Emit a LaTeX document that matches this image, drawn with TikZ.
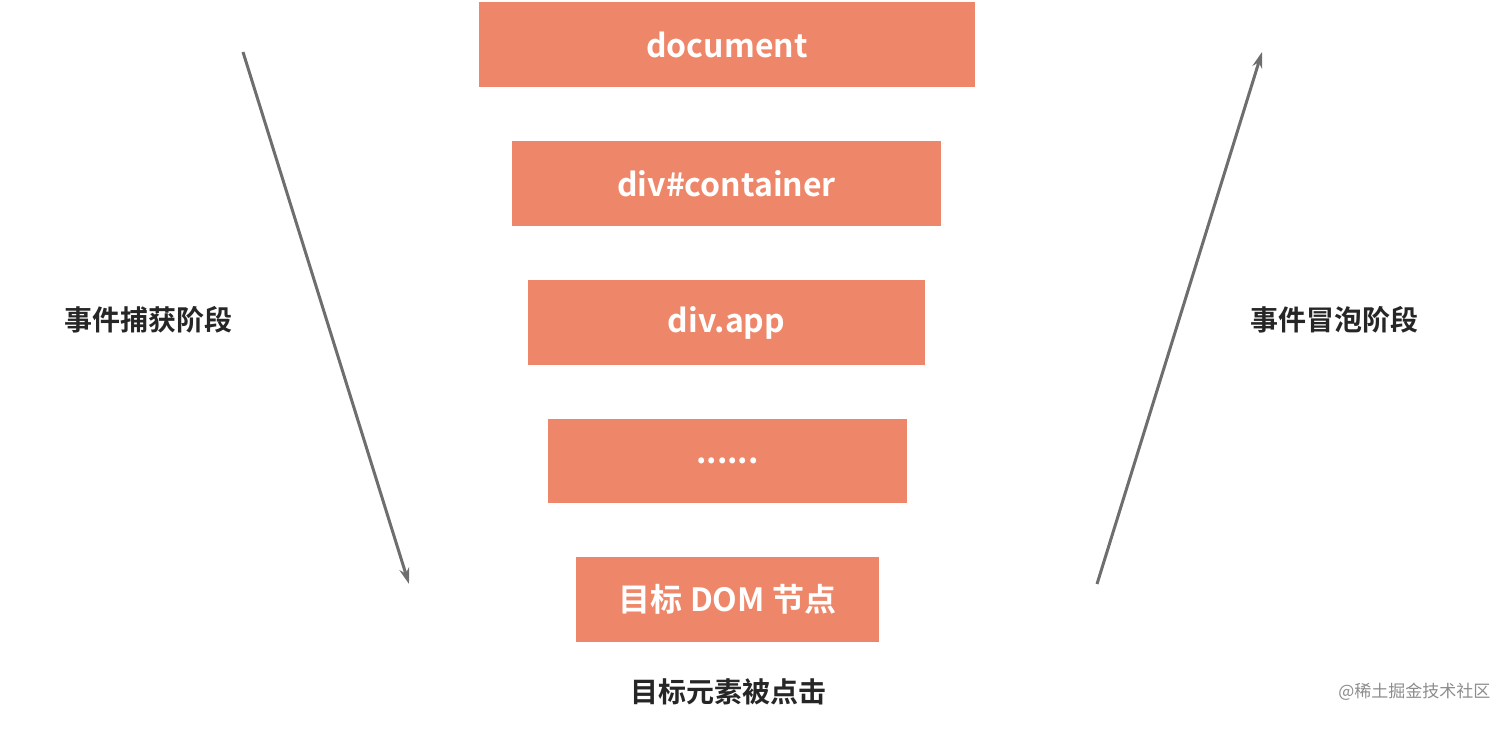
\documentclass[tikz,border=0pt]{standalone}
\usepackage{fontspec}
\setmainfont{Noto Sans CJK SC}[BoldFont={* Bold}]
\usetikzlibrary{arrows.meta}
\definecolor{boxc}{HTML}{EE8669}
\definecolor{arr}{HTML}{6E6E6E}
\tikzset{
  box/.style={fill=boxc,draw=none,text=white,font=\bfseries\fontsize{32}{36}\selectfont,inner sep=0pt},
  lab/.style={text=black!85,font=\bfseries\fontsize{28}{32}\selectfont},
  flow/.style={arr,line width=3pt,-{Stealth[length=16pt,width=10pt]}}
}
\begin{document}
\begin{tikzpicture}[x=1pt,y=1pt]
\useasboundingbox (0,0) rectangle (1512,728);
\node[box,minimum width=496pt,minimum height=85pt] (doc) at (727,683.5) {document};
\node[box,minimum width=429pt,minimum height=85pt] (cont) at (726.5,544.5) {div\#container};
\node[box,minimum width=397pt,minimum height=85pt] (app) at (726.5,405.5) {div.app};
\node[box,minimum width=359pt,minimum height=84pt] (dots) at (727.5,267) {......};
\node[box,minimum width=303pt,minimum height=85pt] (tgt) at (727.5,128.5) {目标 DOM 节点};
\node[lab] (click) at (728,36) {目标元素被点击};
\node[lab] (cap) at (148,408) {事件捕获阶段};
\node[lab] (bub) at (1334,408) {事件冒泡阶段};
\node[text=black!45,font=\fontsize{17}{20}\selectfont,anchor=east] (wm) at (1494,36) {@稀土掘金技术社区};
\coordinate (c1) at (243,676);
\coordinate (c2) at (409,144);
\coordinate (b1) at (1097,144);
\coordinate (b2) at (1262,676);
\draw[flow] (c1) -- (c2);
\draw[flow] (b1) -- (b2);
\end{tikzpicture}
\end{document}
